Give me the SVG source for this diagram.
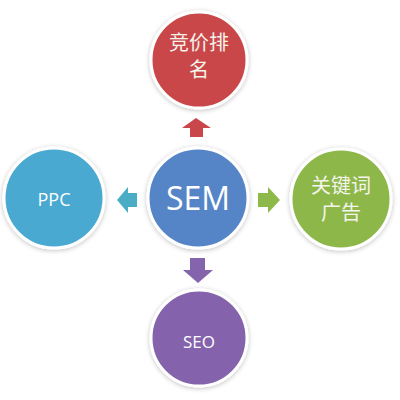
<svg xmlns="http://www.w3.org/2000/svg" width="400" height="400" viewBox="0 0 400 400">
<defs>
<filter id="sh" x="-20%" y="-20%" width="140%" height="140%">
<feGaussianBlur in="SourceAlpha" stdDeviation="2.5"/>
<feComponentTransfer><feFuncA type="linear" slope="0.25"/></feComponentTransfer>
<feOffset dx="0" dy="1" result="b"/>
<feMerge><feMergeNode in="b"/><feMergeNode in="SourceGraphic"/></feMerge>
</filter>
</defs>
<style>
.c{stroke:#ffffff;stroke-width:3;filter:url(#sh)}
.t{fill:#ffffff;font-family:"Open Sans","Noto Sans",sans-serif;text-anchor:middle}
.z{fill:#f4f4ec;font-family:"Noto Sans CJK SC",sans-serif;text-anchor:middle;font-size:20px}
</style>
<rect width="400" height="400" fill="#ffffff"/>
<g id="connectors">
<path d="M196,118 L211,128 L203,128 L203,137 L190,137 L190,128 L182,128 Z" fill="#c9474a"/>
<path d="M117,200 L128,187 L128,193 L137,193 L137,207 L128,207 L128,213 Z" fill="#4bacc6"/>
<path d="M280,200 L268,187 L268,193 L258,193 L258,207 L268,207 L268,213 Z" fill="#8db84a"/>
<path d="M198,283 L213,270 L205,270 L205,258 L190,258 L190,270 L183,270 Z" fill="#8464ac"/>
</g>
<g id="node-top">
<circle class="c" cx="199" cy="60" r="48" fill="#c9474a"/>
<text class="z"><tspan x="199" y="50">竞价排</tspan><tspan x="199" y="77">名</tspan></text>
</g>
<g id="node-sem">
<circle class="c" cx="198" cy="198" r="50" fill="#5585c7"/>
<text class="t" x="198" y="210" font-size="32">SEM</text>
</g>
<g id="node-ppc">
<circle class="c" cx="54" cy="198" r="50" fill="#4aa9d1"/>
<text class="t" x="54" y="206" font-size="18">PPC</text>
</g>
<g id="node-keyword">
<circle class="c" cx="341" cy="199" r="50" fill="#8db84a"/>
<text class="z"><tspan x="341" y="193">关键词</tspan><tspan x="341" y="220">广告</tspan></text>
</g>
<g id="node-seo">
<circle class="c" cx="199" cy="338" r="48" fill="#8464ac"/>
<text class="t" x="199" y="348" font-size="17">SEO</text>
</g>
</svg>
